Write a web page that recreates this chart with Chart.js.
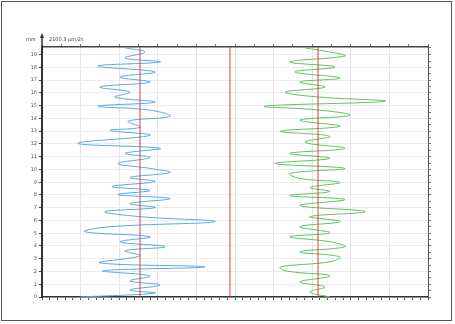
<!DOCTYPE html>
<html>
<head>
<meta charset="utf-8">
<script src="https://cdn.jsdelivr.net/npm/chart.js@4"></script>
<style>
  html, body { margin: 0; padding: 0; background: #fff; }
  #wrap { position: absolute; left: 0; top: 0; width: 455px; height: 324px; }
  #frame { position: absolute; left: 1px; top: 1px; width: 451px; height: 320px; border: 1px solid #555; box-sizing: border-box; pointer-events: none; }
</style>
</head>
<body>
<div id="wrap"><canvas id="c" width="455" height="324"></canvas></div>
<div id="frame"></div>
<script>
// Profile traces (depth in mm, lateral position in scale units)
const blueDepth = [19.53, 19.21, 18.74, 18.43, 18.11, 17.64, 17.24, 16.85, 16.46, 16.06, 15.67, 15.28, 14.96, 14.65, 14.17,
  13.78, 13.31, 13.07, 12.68, 12.05, 11.65, 11.26, 10.94, 10.47, 10.08, 9.76, 9.37, 9.06, 8.66, 8.35, 8.03, 7.72, 7.32,
  7.01, 6.69, 6.30, 5.91, 5.51, 5.12, 4.72, 4.33, 3.94, 3.62, 3.23, 2.68, 2.36, 2.05, 1.65, 1.26, 0.94, 0.55, 0.31, 0.00];
const blueX = [21.5, 26.7, 21.5, 30.6, 14.5, 29.3, 20.2, 28.0, 15.0, 22.8, 18.9, 29.3, 14.5, 28.0, 33.2,
  22.3, 25.4, 17.6, 28.0, 9.3, 30.6, 21.5, 28.0, 19.7, 28.0, 33.2, 22.8, 29.3, 18.1, 28.0, 19.7, 33.2, 22.8,
  29.3, 16.3, 25.4, 44.8, 17.6, 11.1, 28.0, 20.2, 31.9, 21.5, 25.4, 15.0, 42.2, 15.8, 28.0, 22.8, 30.6, 22.8, 29.3, 9.8];

const greenDepth = [19.53, 19.21, 18.90, 18.43, 18.03, 17.64, 17.17, 16.85, 16.46, 16.06, 15.67, 15.35, 14.96, 14.65, 14.25,
  13.86, 13.39, 12.99, 12.60, 12.13, 11.65, 11.26, 10.87, 10.47, 10.08, 9.69, 9.29, 8.98, 8.58, 8.27, 7.95, 7.64, 7.17,
  6.69, 6.30, 5.91, 5.51, 5.04, 4.72, 4.33, 3.94, 3.54, 3.15, 2.76, 2.36, 2.05, 1.65, 1.18, 0.79, 0.39, 0.00];
const greenX = [68.1, 74.6, 78.5, 64.2, 75.9, 65.5, 77.2, 66.8, 73.3, 63.0, 72.0, 88.9, 57.8, 72.0, 79.8,
  66.8, 77.2, 61.7, 74.6, 68.1, 78.5, 64.2, 74.6, 60.4, 78.5, 64.2, 66.8, 77.2, 69.4, 74.6, 64.2, 78.5, 66.8,
  83.7, 69.4, 77.2, 66.8, 74.6, 64.2, 74.6, 78.5, 66.8, 77.2, 74.6, 61.7, 63.0, 74.6, 66.8, 73.3, 69.4, 74.6];

const refLines = [25.4, 48.7, 71.5];
const depthMax = 19.6;

function toPoints(xs, ys) {
  return xs.map((x, i) => ({ x: x, y: ys[i] }));
}

const datasets = [];
refLines.forEach(r => {
  datasets.push({
    data: [{ x: r, y: 0 }, { x: r, y: depthMax }],
    borderColor: '#d9413c',
    borderWidth: 1,
    pointRadius: 0,
    showLine: true
  });
});
datasets.push({
  data: toPoints(blueX, blueDepth),
  borderColor: '#5ba8e0',
  borderWidth: 1,
  pointRadius: 0,
  showLine: true,
  tension: 0.4
});
datasets.push({
  data: toPoints(greenX, greenDepth),
  borderColor: '#63c063',
  borderWidth: 1,
  pointRadius: 0,
  showLine: true,
  tension: 0.4
});

// small header text + arrow above the depth axis
const headerPlugin = {
  id: 'header',
  afterDraw(chart) {
    const ctx = chart.ctx;
    const left = chart.chartArea.left;
    const top = chart.chartArea.top;
    ctx.save();
    ctx.strokeStyle = '#333';
    ctx.fillStyle = '#333';
    ctx.lineWidth = 1.5;
    ctx.beginPath();
    ctx.moveTo(left, top);
    ctx.lineTo(left, top - 12);
    ctx.stroke();
    ctx.beginPath();
    ctx.moveTo(left - 2, top - 9);
    ctx.lineTo(left, top - 14);
    ctx.lineTo(left + 2, top - 9);
    ctx.fill();
    ctx.font = '5px "DejaVu Sans"';
    ctx.fillStyle = '#444';
    ctx.textBaseline = 'middle';
    ctx.fillText('mm', left - 16, top - 7);
    ctx.fillText('2100.3 μm/2s', left + 7, top - 7);
    ctx.restore();
  }
};

new Chart(document.getElementById('c'), {
  type: 'scatter',
  data: { datasets: datasets },
  options: {
    responsive: false,
    animation: false,
    layout: { padding: { left: 24, top: 44, right: 24, bottom: 22 } },
    plugins: { legend: { display: false }, tooltip: { enabled: false } },
    scales: {
      x: {
        position: 'bottom',
        min: 0, max: 100,
        afterFit: s => { s.height = 5; },
        ticks: { display: false, stepSize: 2 },
        grid: {
          color: c => (Math.round(c.tick.value) % 10 === 0 ? '#e4e4e4' : 'rgba(0,0,0,0)'),
          tickColor: '#555',
          tickLength: 3
        },
        border: { color: '#333', width: 1.5 }
      },
      x2: {
        position: 'top',
        min: 0, max: 100,
        afterFit: s => { s.height = 3; },
        ticks: { display: false, stepSize: 5 },
        grid: { drawOnChartArea: false, tickColor: '#777', tickLength: 3 },
        border: { color: '#444', width: 1.5 }
      },
      y: {
        position: 'left',
        min: 0, max: depthMax,
        afterFit: s => { s.width = 18; },
        ticks: {
          stepSize: 0.5,
          padding: 2,
          color: '#555',
          font: { size: 5, family: 'DejaVu Sans' },
          callback: v => (Number.isInteger(v) ? String(v) : '')
        },
        grid: {
          color: c => (Number.isInteger(c.tick.value) ? '#ececec' : 'rgba(0,0,0,0)'),
          tickColor: '#444',
          tickLength: 3
        },
        border: { color: '#333', width: 2 }
      },
      y2: {
        position: 'right',
        min: 0, max: depthMax,
        afterFit: s => { s.width = 3; },
        ticks: { display: false, stepSize: 0.5 },
        grid: { drawOnChartArea: false, tickColor: '#777', tickLength: 3 },
        border: { color: '#555', width: 1 }
      }
    }
  },
  plugins: [headerPlugin]
});
</script>
</body>
</html>
